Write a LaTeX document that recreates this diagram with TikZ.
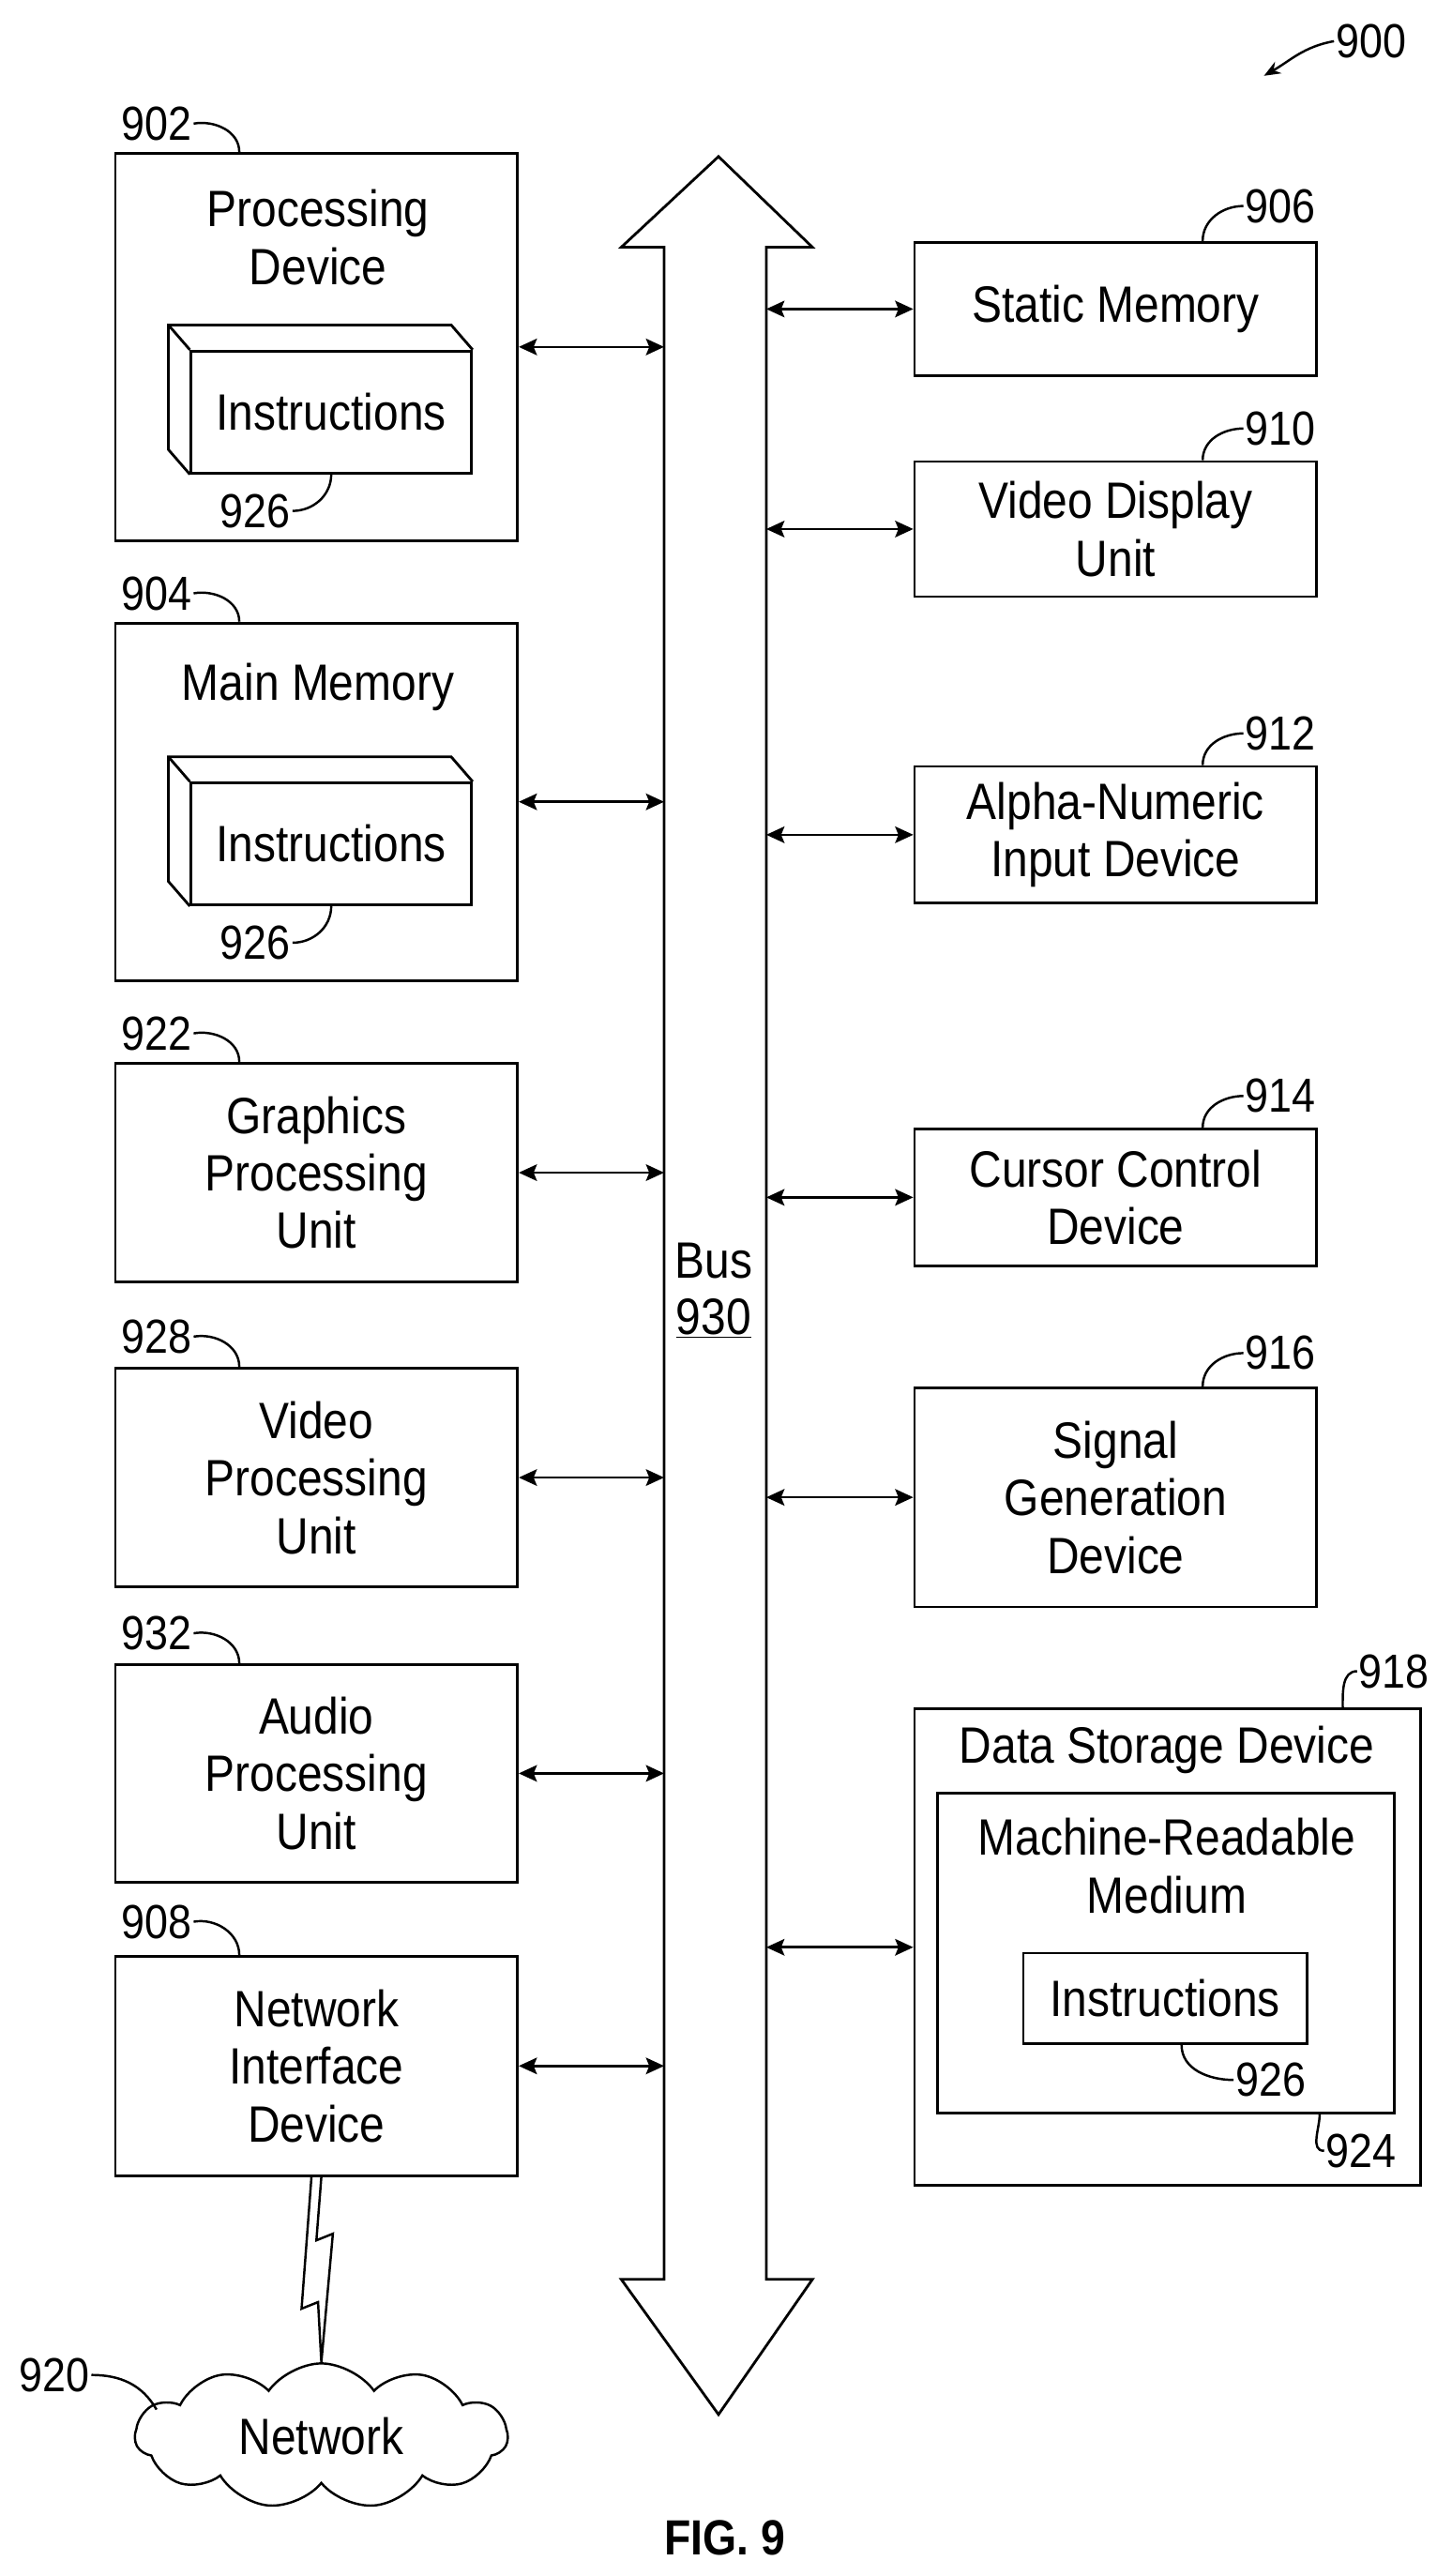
\documentclass[tikz,border=0pt]{standalone}
\usepackage{fontspec}
\setmainfont{Liberation Sans}
\newfontfamily\narrowfont[FakeStretch=0.88]{Liberation Sans}
\usetikzlibrary{arrows.meta,shapes,shapes.symbols,calc}
\tikzset{
  box/.style={draw, line width=1.6pt, inner sep=0pt, align=center, font=\narrowfont\fontsize{31}{35}\selectfont},
  txt/.style={inner sep=0pt, align=center, font=\narrowfont\fontsize{31}{35}\selectfont},
  lbl/.style={inner sep=1pt, font=\narrowfont\fontsize{29}{33}\selectfont},
  lead/.style={line width=1.4pt},
  link/.style={line width=1.5pt, {Stealth[length=11pt,width=10pt,inset=2pt]}-{Stealth[length=11pt,width=10pt,inset=2pt]}},
}
\begin{document}
\begin{tikzpicture}[x=1pt, y=-1pt]
        \useasboundingbox (0,0) rectangle (881,1563);
        \coordinate (busL) at (403,0);
        \coordinate (busR) at (465,0);

        % bus
        \draw[line width=1.6pt, line join=miter] (436,95) -- (493,150) -- (465,150) -- (465,1383) -- (493,1383) -- (436,1465)
          -- (377,1383) -- (403,1383) -- (403,150) -- (377,150) -- cycle;
        \node[txt] (bus) at (433,765) {Bus};
        \node[txt] (bus930) at (433,800) {\underline{930}};

        % left column
        \node[box, minimum width=244, minimum height=235] (p902) at (192,210.5) {};
        \node[txt] (t902) at (193,144) {Processing\\Device};
        \node[box, minimum width=170, minimum height=74] (ins1) at (201,250) {Instructions};
        \node[box, minimum width=244, minimum height=217] (p904) at (192,486.5) {};
        \node[txt] (t904) at (193,417) {Main Memory};
        \node[box, minimum width=170, minimum height=74] (ins2) at (201,512) {Instructions};
        \node[box, minimum width=244, minimum height=133] (p922) at (192,711.5) {Graphics\\Processing\\Unit};
        \node[box, minimum width=244, minimum height=133] (p928) at (192,896.5) {Video\\Processing\\Unit};
        \node[box, minimum width=244, minimum height=132] (p932) at (192,1076) {Audio\\Processing\\Unit};
        \node[box, minimum width=244, minimum height=133] (p908) at (192,1253.5) {Network\\Interface\\Device};
        \node[cloud, draw, line width=1.4pt, cloud puffs=11, cloud puff arc=110, aspect=2.5,
              minimum width=226, minimum height=88, txt] (p920) at (195,1478) {Network};

        % right column
        \node[box, minimum width=244, minimum height=81] (p906) at (677,187.5) {Static Memory};
        \node[box, minimum width=244, minimum height=82] (p910) at (677,321) {Video Display\\Unit};
        \node[box, minimum width=244, minimum height=83] (p912) at (677,506.5) {Alpha-Numeric\\Input Device};
        \node[box, minimum width=244, minimum height=83] (p914) at (677,726.5) {Cursor Control\\Device};
        \node[box, minimum width=244, minimum height=133] (p916) at (677,908.5) {Signal\\Generation\\Device};
        \node[box, minimum width=307, minimum height=289] (p918) at (708.5,1181.5) {};
        \node[txt] (t918) at (708,1062) {Data Storage Device};
        \node[box, minimum width=277, minimum height=194] (p924) at (707.5,1185) {};
        \node[txt] (t924) at (708,1132) {Machine-Readable\\Medium};
        \node[box, minimum width=172, minimum height=55] (ins3) at (707,1212.5) {Instructions};

        % 3d instruction blocks
        \foreach \b in {ins1,ins2}{
          \draw[line width=1.6pt] (\b.south west) -- ++(-13,-15) -- ($(\b.north west)+(-13,-15)$) -- ($(\b.north east)+(-13,-15)$) -- (\b.north east);
          \draw[line width=1.6pt] (\b.north west) -- ++(-13,-15);
        }

        % bus links
        \foreach \p in {p902,p904,p922,p928,p932,p908}
          \draw[link] (\p.east) -- (\p.east -| busL);
        \foreach \p in {p906,p910,p912,p914,p916,p918}
          \draw[link] (\p.west -| busR) -- (\p.west);

        % network link
        \draw[line width=1.4pt, line join=miter] ($(p908.south)+(-3,0)$) -- ++(-6,80) -- ++(10,-4) -- (p920.north)
          -- ++(7,-78) -- ++(-10,4) -- ($(p908.south)+(3,0)$);

        % reference numerals
        \node[lbl] (l900) at (832,25) {900};
        \coordinate (a900) at (767,46);
        \draw[lead, -{Stealth[length=10pt,width=8pt]}] (l900.west) to[out=190, in=30] (a900);
        \node[lbl] (l902) at (95,75) {902};
        \draw[lead] (l902.east) to[out=10, in=90] ($(p902.north west)+(76,0)$);
        \node[lbl] (l904) at (95,360) {904};
        \draw[lead] (l904.east) to[out=10, in=90] ($(p904.north west)+(76,0)$);
        \node[lbl] (l922) at (95,627) {922};
        \draw[lead] (l922.east) to[out=10, in=90] ($(p922.north west)+(76,0)$);
        \node[lbl] (l928) at (95,811) {928};
        \draw[lead] (l928.east) to[out=10, in=90] ($(p928.north west)+(76,0)$);
        \node[lbl] (l932) at (95,991) {932};
        \draw[lead] (l932.east) to[out=10, in=90] ($(p932.north west)+(76,0)$);
        \node[lbl] (l908) at (95,1166) {908};
        \draw[lead] (l908.east) to[out=10, in=90] ($(p908.north west)+(76,0)$);
        \node[lbl] (l920) at (33,1441) {920};
        \draw[lead] (l920.east) to[out=0, in=120] ($(p920.west)+(14,-16)$);
        \node[lbl] (l926a) at (155,310) {926};
        \draw[lead] (l926a.east) to[out=0, in=-90] (ins1.south);
        \node[lbl] (l926b) at (155,572) {926};
        \draw[lead] (l926b.east) to[out=0, in=-90] (ins2.south);
        \node[lbl] (l906) at (777,125) {906};
        \draw[lead] (l906.west) to[out=180, in=90] ($(p906.north east)+(-70,0)$);
        \node[lbl] (l910) at (777,260) {910};
        \draw[lead] (l910.west) to[out=180, in=90] ($(p910.north east)+(-70,0)$);
        \node[lbl] (l912) at (777,445) {912};
        \draw[lead] (l912.west) to[out=180, in=90] ($(p912.north east)+(-70,0)$);
        \node[lbl] (l914) at (777,665) {914};
        \draw[lead] (l914.west) to[out=180, in=90] ($(p914.north east)+(-70,0)$);
        \node[lbl] (l916) at (777,821) {916};
        \draw[lead] (l916.west) to[out=180, in=90] ($(p916.north east)+(-70,0)$);
        \node[lbl] (l918) at (846,1014) {918};
        \draw[lead] (l918.west) to[out=180, in=90] ($(p918.north east)+(-48,0)$);
        \node[lbl] (l926c) at (771,1262) {926};
        \draw[lead] (l926c.west) to[out=180, in=-90] ([xshift=10]ins3.south);
        \node[lbl] (l924) at (826,1305) {924};
        \draw[lead] (l924.west) to[out=180, in=-90] ($(p924.south east)+(-46,0)$);

        \node[font=\narrowfont\bfseries\fontsize{30}{34}\selectfont] (fig) at (440,1540) {FIG. 9};
      \end{tikzpicture}
\end{document}
